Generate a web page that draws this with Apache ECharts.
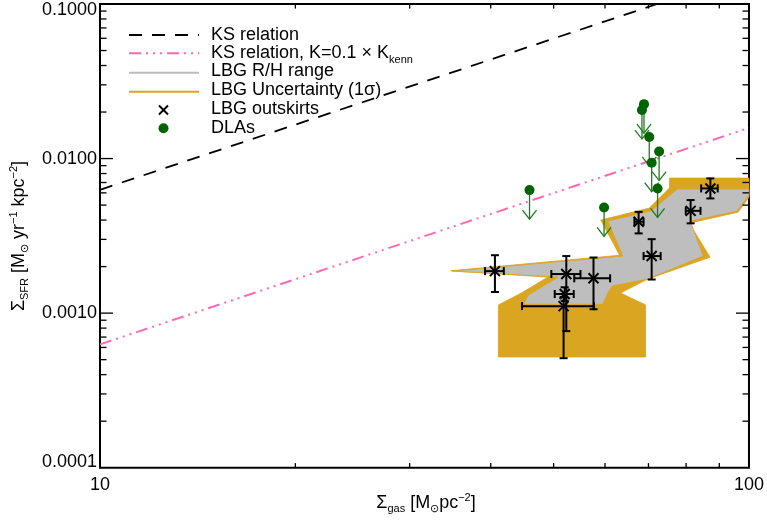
<!DOCTYPE html>
<html><head><meta charset="utf-8">
<script src="https://cdn.jsdelivr.net/npm/echarts@6/dist/echarts.min.js"></script>
<style>html,body{margin:0;padding:0;background:#fff}#c{width:767px;height:522px}</style>
</head><body><div id="c"></div>
<script>
// ---------------- data ----------------
const ksGas = [10, 72.2];
const ksSfr = [0.00628, 0.1];
const ks01Gas = [10, 100];
const ks01Sfr = [0.000628, 0.0158];

// LBG R/H range polygon
const rhGas = [34.9, 63.9, 60.6, 70.5, 77.6, 100, 100, 95.9, 81.2, 85.0, 69.8, 61.6, 60.6, 59.5, 44.9, 45.7, 50.8];
const rhSfr = [0.00187, 0.00234, 0.00394, 0.00457, 0.00635, 0.00635, 0.0058, 0.00457, 0.00394, 0.00234, 0.00166, 0.0015, 0.00135, 0.00114, 0.00114, 0.00131, 0.00171];
// LBG uncertainty (1 sigma) polygon
const uncGas = [34.7, 63.2, 59.1, 70.2, 75.4, 75.4, 100, 100, 96.2, 80.9, 87.1, 69.8, 63.4, 69.3, 69.3, 41.1, 41.1, 44.6, 49.0];
const uncSfr = [0.00188, 0.00237, 0.0040, 0.00478, 0.00644, 0.00748, 0.00748, 0.00563, 0.0045, 0.00382, 0.0023, 0.00166, 0.00135, 0.00113, 0.00052, 0.00052, 0.00113, 0.00135, 0.00171];

// LBG outskirts
const lbgGas   = [40.6, 52.3, 52.0, 51.8, 57.6, 67.6, 70.8, 81.3, 87.2];
const lbgSfr   = [0.00187, 0.00179, 0.00133, 0.00111, 0.00168, 0.0039, 0.00234, 0.00459, 0.00641];
const lbgGasLo = [39.2, 49.6, 50.2, 44.7, 53.8, 66.6, 68.8, 79.9, 84.4];
const lbgGasHi = [41.9, 55.0, 53.7, 57.7, 61.1, 68.8, 73.1, 84.2, 89.5];
const lbgSfrLo = [0.00137, 0.000765, 0.0012, 0.000511, 0.00106, 0.00328, 0.00165, 0.00381, 0.00552];
const lbgSfrHi = [0.00237, 0.00234, 0.00147, 0.00127, 0.00229, 0.00452, 0.00301, 0.00539, 0.00744];

// DLAs (upper limits)
const dlaGas = [45.9, 59.8, 68.9, 68.4, 70.2, 72.7, 70.8, 72.3];
const dlaSfr = [0.00625, 0.00483, 0.0225, 0.0206, 0.0138, 0.0111, 0.0094, 0.00641];

// axes / ticks
const xRange = [10, 100];
const yRange = [0.0001, 0.1];
const xTickLabels = ['10', '100'];
const yTickLabels = ['0.0001', '0.0010', '0.0100', '0.1000'];
const xMinorTicks = [20, 30, 40, 50, 60, 70, 80, 90];
const yMajorTicks = [0.001, 0.01];
const yMinorMantissa = [2, 3, 4, 5, 6, 7, 8, 9];
const yDecades = [0.0001, 0.001, 0.01];

// ---------------- helpers ----------------
const FONT = '"Liberation Sans", Arial, Helvetica, sans-serif';
const ORANGE = '#DAA520', GRAY = '#BEBEBE', PINK = '#FF69B4', DGREEN = '#006400', AGREEN = '#1f7d1f';
const PINK_DASH = [12, 5, 2, 5, 2, 5, 2, 5];
const KS_DASH = [13, 10];

const mctx = document.createElement('canvas').getContext('2d');
function tw(t, s) { mctx.font = s + 'px ' + FONT; return mctx.measureText(t).width; }
// parts: [text, size, baselineShift]
function textRun(parts) {
  let x = 0; const kids = [];
  parts.forEach(([t, s, dy]) => {
    kids.push({ type: 'text', x: x, y: dy - 0.3465 * s,
      style: { text: t, font: s + 'px ' + FONT, fill: '#000', align: 'left', verticalAlign: 'middle', textAlign: 'left', textVerticalAlign: 'middle' } });
    x += tw(t, s);
  });
  return { kids, width: x };
}
function runGroup(parts, x, baseline, anchor, rotation) {
  const r = textRun(parts);
  const off = anchor === 'center' ? -r.width / 2 : 0;
  r.kids.forEach(k => k.x += off);
  return { type: 'group', x: x, y: baseline, rotation: rotation || 0, children: r.kids, silent: true };
}

const yMinorTicks = [];
yDecades.forEach(d => yMinorMantissa.forEach(m => yMinorTicks.push(m * d)));

function polySeries(gas, sfr, fill, stroke, lw, z) {
  return { type: 'custom', silent: true, z: z, animation: false,
    data: gas.map((g, i) => [g, sfr[i]]),
    renderItem: (params, api) => {
      if (params.dataIndex !== 0) return null;
      const pts = gas.map((g, i) => api.coord([g, sfr[i]]));
      return { type: 'polygon', shape: { points: pts }, style: { fill: fill, stroke: stroke, lineWidth: lw } };
    } };
}

function tickSeriesX(vals, len) {
  return { type: 'custom', silent: true, z: 20, data: vals.map(v => [v, yRange[0]]),
    renderItem: (params, api) => {
      const v = api.value(0);
      const a = api.coord([v, yRange[0]]), b = api.coord([v, yRange[1]]);
      const st = { stroke: '#000', lineWidth: 1.3 };
      return { type: 'group', children: [
        { type: 'line', shape: { x1: a[0], y1: a[1], x2: a[0], y2: a[1] - len }, style: st },
        { type: 'line', shape: { x1: b[0], y1: b[1], x2: b[0], y2: b[1] + len }, style: st } ] };
    } };
}
function tickSeriesY(vals, len) {
  return { type: 'custom', silent: true, z: 20, data: vals.map(v => [xRange[0], v]),
    renderItem: (params, api) => {
      const v = api.value(1);
      const a = api.coord([xRange[0], v]), b = api.coord([xRange[1], v]);
      const st = { stroke: '#000', lineWidth: 1.3 };
      return { type: 'group', children: [
        { type: 'line', shape: { x1: a[0], y1: a[1], x2: a[0] + len, y2: a[1] }, style: st },
        { type: 'line', shape: { x1: b[0], y1: b[1], x2: b[0] - len, y2: b[1] }, style: st } ] };
    } };
}

// ---------------- chart ----------------
const chart = echarts.init(document.getElementById('c'), null, { renderer: 'canvas' });

const labelRich = {
  n:  { fontSize: 18, fontFamily: FONT, color: '#000' },
  hi: { fontSize: 18, fontFamily: FONT, color: '#000', padding: [13, 0, 0, 0] },
  lo: { fontSize: 18, fontFamily: FONT, color: '#000', padding: [0, 0, 11, 0] }
};

const legendX0 = 129, legendX1 = 199, legendTx = 211;
const legendRows = [35, 53.3, 71.3, 90.3, 108.6, 127.7];
const lineRows = [35, 53.3, 72.7, 91.7, 110, 128.3];

const graphics = [
  // legend samples
  { type: 'line', shape: { x1: legendX0, y1: lineRows[0], x2: legendX1, y2: lineRows[0] }, style: { stroke: '#000', lineWidth: 1.8, lineDash: KS_DASH } },
  { type: 'line', shape: { x1: legendX0, y1: lineRows[1], x2: legendX1, y2: lineRows[1] }, style: { stroke: PINK, lineWidth: 2, lineDash: PINK_DASH } },
  { type: 'line', shape: { x1: legendX0, y1: lineRows[2], x2: legendX1, y2: lineRows[2] }, style: { stroke: GRAY, lineWidth: 2 } },
  { type: 'line', shape: { x1: legendX0, y1: lineRows[3], x2: legendX1, y2: lineRows[3] }, style: { stroke: ORANGE, lineWidth: 2 } },
  { type: 'line', shape: { x1: 159, y1: lineRows[4] - 4.5, x2: 168, y2: lineRows[4] + 4.5 }, style: { stroke: '#000', lineWidth: 2 } },
  { type: 'line', shape: { x1: 159, y1: lineRows[4] + 4.5, x2: 168, y2: lineRows[4] - 4.5 }, style: { stroke: '#000', lineWidth: 2 } },
  { type: 'circle', shape: { cx: 163.5, cy: lineRows[5], r: 5 }, style: { fill: DGREEN } },
  runGroup([['KS relation', 18, 0]], legendTx, legendRows[0] + 6.45, 'left'),
  runGroup([['KS relation, K=0.1 \u00d7 K', 18, 0], ['kenn', 11, 4]], legendTx, legendRows[1] + 6.45, 'left'),
  runGroup([['LBG R/H range', 18, 0]], legendTx, legendRows[2] + 6.45, 'left'),
  runGroup([['LBG Uncertainty (1\u03c3)', 18, 0]], legendTx, legendRows[3] + 6.45, 'left'),
  runGroup([['LBG outskirts', 18, 0]], legendTx, legendRows[4] + 6.45, 'left'),
  runGroup([['DLAs', 18, 0]], legendTx, legendRows[5] + 6.45, 'left'),
  // axis titles
  runGroup([['\u03a3', 18, 0], ['gas', 11, 4], [' [M', 18, 0], ['\u2299', 11, 4], ['pc', 18, 0], ['\u22122', 11, -7], [']', 18, 0]], 426, 509, 'center'),
  runGroup([['\u03a3', 18, 0], ['SFR', 11, 4], [' [M', 18, 0], ['\u2299', 11, 4], [' yr', 18, 0], ['\u22121', 11, -7], [' kpc', 18, 0], ['\u22122', 11, -7], [']', 18, 0]], 25, 236, 'center', Math.PI / 2)
];

const option = {
  animation: false,
  backgroundColor: '#fff',
  grid: { left: 100, top: 4, width: 652, height: 463.7, show: true, borderColor: '#000', borderWidth: 2, backgroundColor: 'transparent', containLabel: false },
  xAxis: {
    type: 'log', logBase: 10, min: xRange[0], max: xRange[1],
    axisLine: { show: false }, axisTick: { show: false }, splitLine: { show: false }, minorTick: { show: false },
    axisLabel: { fontSize: 18, fontFamily: FONT, color: '#000', margin: 8,
      formatter: (v, i) => xTickLabels[i] }
  },
  yAxis: {
    type: 'log', logBase: 10, min: yRange[0], max: yRange[1],
    axisLine: { show: false }, axisTick: { show: false }, splitLine: { show: false },
    axisLabel: { margin: 3, color: '#000', fontSize: 18, fontFamily: FONT, rich: labelRich,
      formatter: (v, i) => {
        const t = yTickLabels[i];
        if (i === 0) return '{lo|' + t + '}';
        if (i === yTickLabels.length - 1) return '{hi|' + t + '}';
        return '{n|' + t + '}';
      } }
  },
  series: [
    polySeries(uncGas, uncSfr, ORANGE, ORANGE, 0.8, 2),
    polySeries(rhGas, rhSfr, GRAY, ORANGE, 0.8, 3),
    { type: 'line', name: 'KS relation', z: 4, showSymbol: false, symbol: 'none', silent: true,
      data: ksGas.map((g, i) => [g, ksSfr[i]]),
      lineStyle: { color: '#000', width: 1.8, type: KS_DASH } },
    { type: 'line', name: 'KS relation 0.1', z: 4, showSymbol: false, symbol: 'none', silent: true,
      data: ks01Gas.map((g, i) => [g, ks01Sfr[i]]),
      lineStyle: { color: PINK, width: 2, type: PINK_DASH } },
    { type: 'custom', name: 'LBG outskirts', z: 6, silent: true,
      data: lbgGas.map((g, i) => [g, lbgSfr[i], lbgGasLo[i], lbgGasHi[i], lbgSfrLo[i], lbgSfrHi[i]]),
      renderItem: (params, api) => {
        const x = api.value(0), y = api.value(1);
        const c = api.coord([x, y]);
        const xl = api.coord([api.value(2), y])[0], xh = api.coord([api.value(3), y])[0];
        const yl = api.coord([x, api.value(4)])[1], yh = api.coord([x, api.value(5)])[1];
        const st = { stroke: '#000', lineWidth: 2 };
        const cap = 4, m = 5;
        const L = (x1, y1, x2, y2) => ({ type: 'line', shape: { x1, y1, x2, y2 }, style: st });
        return { type: 'group', children: [
          L(xl, c[1], xh, c[1]), L(xl, c[1] - cap, xl, c[1] + cap), L(xh, c[1] - cap, xh, c[1] + cap),
          L(c[0], yl, c[0], yh), L(c[0] - cap, yl, c[0] + cap, yl), L(c[0] - cap, yh, c[0] + cap, yh),
          L(c[0] - m, c[1] - m, c[0] + m, c[1] + m), L(c[0] - m, c[1] + m, c[0] + m, c[1] - m)
        ] };
      } },
    { type: 'custom', name: 'DLAs', z: 7, silent: true,
      data: dlaGas.map((g, i) => [g, dlaSfr[i]]),
      renderItem: (params, api) => {
        const c = api.coord([api.value(0), api.value(1)]);
        const tip = c[1] + 29;
        const st = { stroke: AGREEN, lineWidth: 1.3 };
        return { type: 'group', children: [
          { type: 'line', shape: { x1: c[0], y1: c[1], x2: c[0], y2: tip }, style: st },
          { type: 'polyline', shape: { points: [[c[0] - 7, tip - 9], [c[0], tip], [c[0] + 7, tip - 9]] }, style: { stroke: AGREEN, lineWidth: 1.3, fill: null } },
          { type: 'circle', shape: { cx: c[0], cy: c[1], r: 5 }, style: { fill: DGREEN } }
        ] };
      } },
    tickSeriesX(xMinorTicks, 4.6),
    tickSeriesY(yMajorTicks, 13),
    tickSeriesY(yMinorTicks, 6.5)
  ],
  graphic: graphics
};
chart.setOption(option);
</script>
</body></html>
